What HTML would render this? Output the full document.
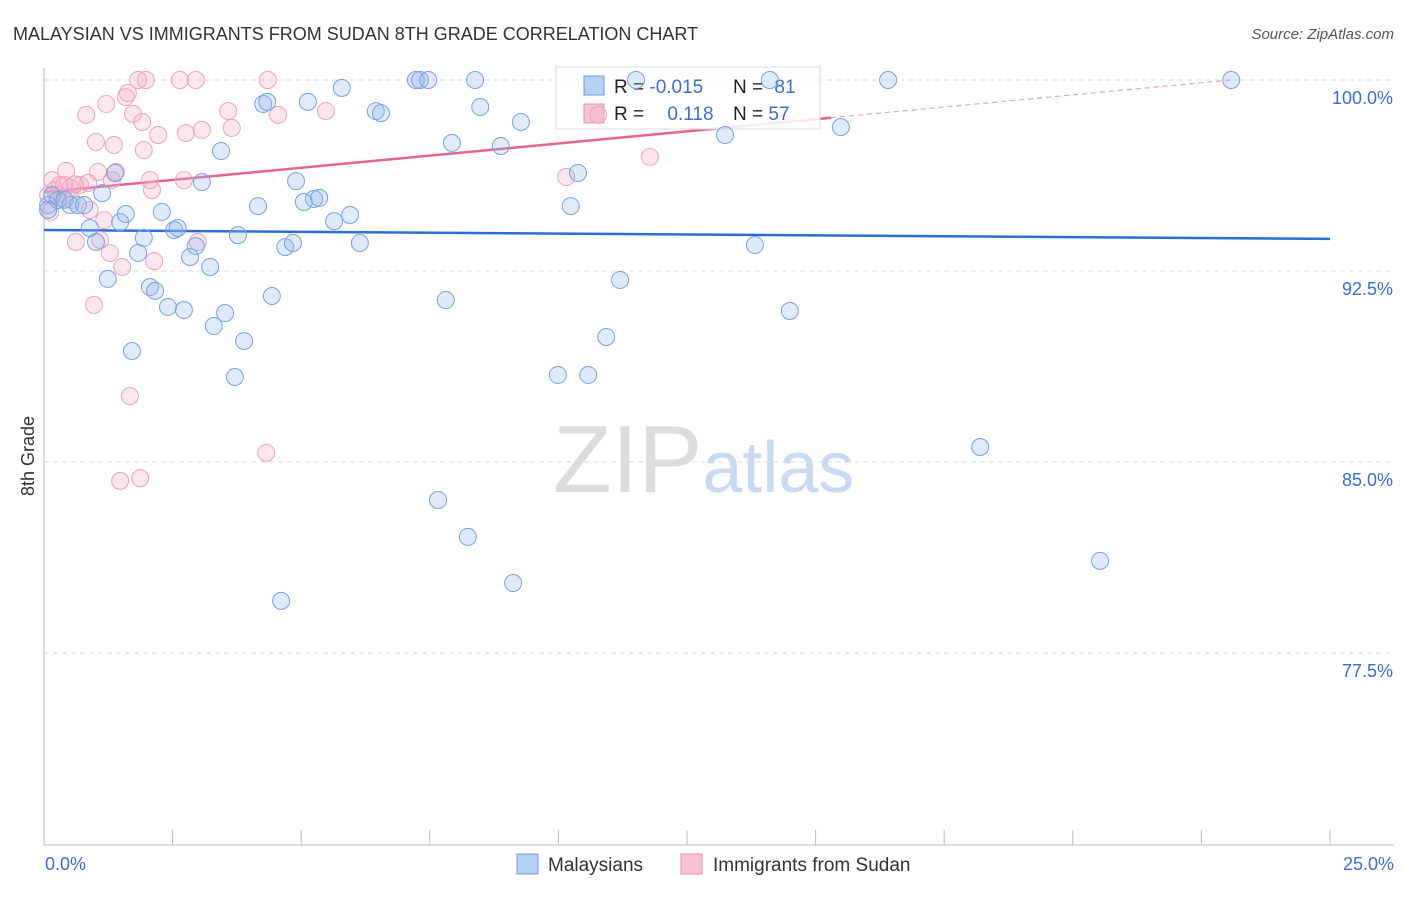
<!DOCTYPE html>
<html><head><meta charset="utf-8"><style>
body{margin:0;background:#fff;font-family:"Liberation Sans",sans-serif}
svg text{font-family:"Liberation Sans",sans-serif}
</style></head><body>
<svg id="chart" width="1406" height="892" xmlns="http://www.w3.org/2000/svg">
<text x="13" y="40" font-size="18" fill="#333">MALAYSIAN VS IMMIGRANTS FROM SUDAN 8TH GRADE CORRELATION CHART</text>
<text x="1394" y="39" font-size="15" fill="#555" text-anchor="end" font-style="italic">Source: ZipAtlas.com</text>
<text x="553" y="492" font-size="96" font-family="Liberation Serif" fill="#ddd">ZIP<tspan fill="#c9daf3" font-family="Liberation Sans" font-size="72">atlas</tspan></text>
<g id="grid"></g>
<line x1="44" y1="68" x2="44" y2="845" stroke="#bbb"/>
<line x1="44" y1="845" x2="1394" y2="845" stroke="#bbb"/>
<g id="xticks"></g>
<text transform="translate(34,456) rotate(-90)" font-size="18" fill="#333" text-anchor="middle">8th Grade</text>
<text x="45" y="870" font-size="18" fill="#3a6fd0">0.0%</text>
<text x="1394" y="870" font-size="18" fill="#3a6fd0" text-anchor="end">25.0%</text>
<g id="trends"></g>
<g>
<rect x="556" y="67" width="264" height="62" fill="#fff" fill-opacity="0.85" stroke="#ddd"/>
<rect x="584" y="76" width="20" height="19" fill="#b7d0f5" stroke="#6a9be0"/>
<rect x="584" y="104" width="20" height="19" fill="#f8c4d4" stroke="#e890ac"/>
<text x="614" y="93" font-size="19" fill="#222">R = <tspan fill="#3a6fd0">-0.015</tspan></text>
<text x="733" y="93" font-size="19" fill="#222">N = <tspan fill="#3a6fd0" dx="6">81</tspan></text>
<text x="614" y="120" font-size="19" fill="#222">R = <tspan fill="#3a6fd0" dx="18">0.118</tspan></text>
<text x="733" y="120" font-size="19" fill="#222">N = <tspan fill="#3a6fd0">57</tspan></text>
</g>
<g id="points"></g>
<g>
<rect x="517" y="854" width="21" height="20" fill="#b7d0f5" stroke="#6a9be0"/>
<text x="548" y="871" font-size="19" fill="#333">Malaysians</text></g>
<g>
<rect x="681" y="854" width="21" height="20" fill="#f8c4d4" stroke="#e890ac"/>
<text x="713" y="871" font-size="19" fill="#333">Immigrants from Sudan</text></g>
</svg>
<script>
const yTicks=[100,92.5,85,77.5];
const yTickLabels=["100.0%","92.5%","85.0%","77.5%"];
const xTickVals=[0,2.5,5,7.5,10,12.5,15,17.5,20,22.5,25];
const blueX=[0.08,0.16,0.27,0.51,0.66,0.78,0.89,1.01,1.13,1.24,1.38,1.48,1.59,1.71,1.83,1.94,2.06,2.16,2.29,2.41,2.53,2.60,2.72,2.84,2.95,3.07,3.23,3.30,3.44,3.52,3.71,3.77,3.89,4.16,4.26,4.34,4.43,4.61,4.69,4.84,4.90,5.05,5.13,5.25,5.35,5.64,5.79,5.95,6.14,6.45,6.55,7.23,7.31,7.47,7.66,7.81,7.93,8.24,8.38,8.48,8.88,9.12,9.27,9.99,10.24,10.38,10.58,10.93,11.20,11.51,13.24,13.82,14.11,14.50,15.49,16.41,18.20,20.53,23.08,0.08,0.40];
const blueY=[95.09,95.48,95.29,95.09,95.09,95.09,94.19,93.64,95.56,92.19,96.35,94.42,94.74,89.36,93.21,93.80,91.87,91.72,94.82,91.09,94.11,94.19,90.97,93.05,93.48,95.99,92.66,90.34,97.21,90.85,88.34,93.91,89.75,95.05,99.06,99.14,91.52,79.55,93.44,93.60,96.03,95.21,99.14,95.33,95.37,94.46,99.69,94.70,93.60,98.78,98.70,100,100,100,83.51,91.36,97.53,82.06,100,98.94,97.41,80.25,98.35,88.42,95.05,96.35,88.42,89.91,92.15,100,97.84,93.52,100,90.93,98.15,100,85.59,81.12,100,94.9,95.3];
const pinkX=[0.12,0.16,0.21,0.31,0.35,0.43,0.51,0.54,0.62,0.70,0.82,0.86,0.89,0.97,1.01,1.05,1.09,1.17,1.21,1.28,1.32,1.36,1.40,1.48,1.52,1.59,1.63,1.67,1.73,1.83,1.87,1.91,1.94,1.98,2.06,2.10,2.14,2.22,2.64,2.72,2.76,2.95,2.99,3.07,3.58,3.65,4.32,4.35,4.55,5.48,10.15,10.77,11.78,0.08,0.39,0.25,0.60];
const pinkY=[94.82,96.07,95.68,95.88,95.37,96.43,95.76,95.29,93.64,95.88,98.63,95.96,94.90,91.17,97.57,96.39,93.72,94.50,99.06,93.21,96.07,97.45,96.39,84.26,92.66,99.33,99.49,87.59,98.67,100,84.37,98.35,97.25,100,96.07,95.68,92.89,97.84,100,96.07,97.92,100,93.64,98.04,98.78,98.12,85.36,100,98.63,98.78,96.19,98.63,96.98,95.48,95.88,95.5,95.9];
const blueTrend=[94.11,93.76];
const pinkTrend=[95.60,100.37];
const pinkSolidEnd=15.3;
const NS="http://www.w3.org/2000/svg";
const sx=v=>44+v*51.44, sy=v=>80+(100-v)*25.47;
function mk(tag,attrs,parent){const e=document.createElementNS(NS,tag);for(const k in attrs)e.setAttribute(k,attrs[k]);parent.appendChild(e);return e;}
const grid=document.getElementById('grid');
yTicks.forEach((t,i)=>{
 const l=mk('line',{x1:44,x2:1394,y1:sy(t),y2:sy(t),stroke:'#ddd','stroke-dasharray':'5,4'},grid);
 
 
 const tx=mk('text',{x:1393,y:sy(t)+24,'font-size':18,fill:'#3a6fd0','text-anchor':'end'},grid);
 tx.textContent=yTickLabels[i];
 
 
});
const xt=document.getElementById('xticks');
xTickVals.forEach(v=>{
 const l=mk('line',{x1:sx(v),x2:sx(v),y1:830,y2:845,stroke:'#bbb'},xt);
 
 
});
const tr=document.getElementById('trends');
const bl=mk('line',{x1:sx(0),y1:sy(blueTrend[0]),x2:sx(25),y2:sy(blueTrend[1]),stroke:'#2a6fd6','stroke-width':2.5},tr);


const pAt=x=>pinkTrend[0]+(pinkTrend[1]-pinkTrend[0])*x/25;
const ps=mk('line',{x1:sx(0),y1:sy(pAt(0)),x2:sx(pinkSolidEnd),y2:sy(pAt(pinkSolidEnd)),stroke:'#e8638e','stroke-width':2.5},tr);


const pd=mk('line',{x1:sx(pinkSolidEnd),y1:sy(pAt(pinkSolidEnd)),x2:sx(23.1),y2:sy(pAt(23.1)),stroke:'#e8a0b8','stroke-width':1.2,'stroke-dasharray':'5,4'},tr);


const pts=document.getElementById('points');
pinkX.forEach((x,i)=>{
 const c=mk('circle',{cx:sx(x),cy:sy(pinkY[i]),r:8.5,fill:'rgba(246,175,198,0.3)',stroke:'#eda2bc','stroke-width':1},pts);
 
 
});
blueX.forEach((x,i)=>{
 const c=mk('circle',{cx:sx(x),cy:sy(blueY[i]),r:8.5,fill:'rgba(150,185,240,0.3)',stroke:'#76a2e4','stroke-width':1},pts);
 
 
});
</script>
</body></html>
